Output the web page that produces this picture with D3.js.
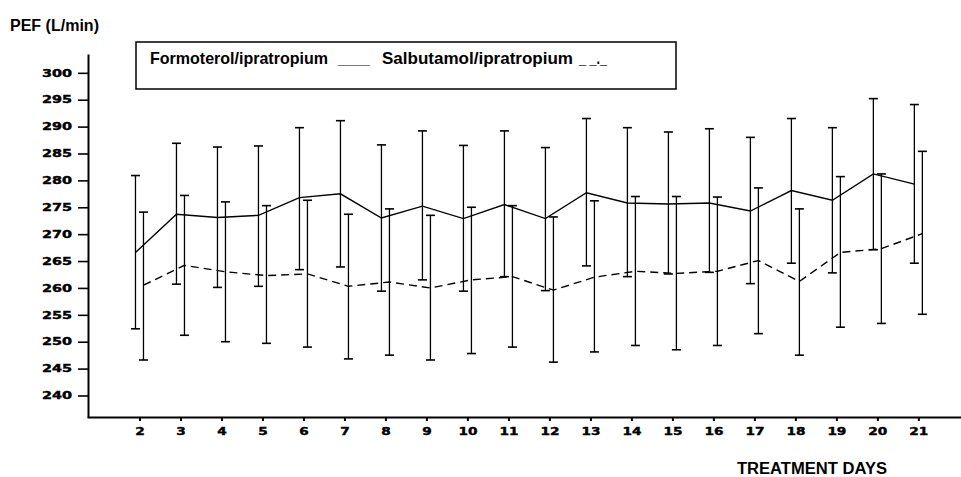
<!DOCTYPE html>
<html>
<head>
<meta charset="utf-8">
<script src="https://cdn.jsdelivr.net/npm/d3@7"></script>
<style>
  html, body { margin: 0; padding: 0; background: #fff; }
  svg { display: block; }
</style>
</head>
<body>
<svg id="chart" width="961" height="477"></svg>
<script>
const days = [2,3,4,5,6,7,8,9,10,11,12,13,14,15,16,17,18,19,20,21];
const yTicks = [240,245,250,255,260,265,270,275,280,285,290,295,300];

const formoterolMean  = [266.6,273.7,273.1,273.5,276.8,277.5,273.0,275.2,272.9,275.5,272.9,277.7,275.8,275.6,275.8,274.3,278.1,276.3,281.2,279.3];
const formoterolUpper = [280.9,286.9,286.2,286.4,289.8,291.1,286.6,289.2,286.5,289.2,286.1,291.5,289.8,289.0,289.6,288.0,291.5,289.8,295.2,294.1];
const formoterolLower = [252.4,260.7,260.1,260.3,263.4,263.9,259.4,261.5,259.4,262.1,259.5,264.1,262.1,262.6,262.9,260.8,264.6,262.8,267.1,264.6];

const salbutamolMean  = [260.5,264.2,263.0,262.3,262.6,260.3,261.1,260.0,261.5,262.1,259.6,262.0,263.1,262.7,263.1,265.1,261.2,266.6,267.3,270.1];
const salbutamolUpper = [274.1,277.2,276.0,275.3,276.3,273.7,274.7,273.5,275.0,275.3,273.2,276.2,277.0,277.0,276.9,278.6,274.7,280.7,281.2,285.4];
const salbutamolLower = [246.6,251.2,250.0,249.7,249.0,246.8,247.5,246.6,247.8,249.0,246.2,248.1,249.3,248.5,249.3,251.5,247.5,252.7,253.4,255.1];

const yLabel = "PEF (L/min)";
const xLabel = "TREATMENT DAYS";
const legendNames = ["Formoterol/ipratropium", "Salbutamol/ipratropium"];

const svg = d3.select("#chart");
const x = d3.scaleLinear().domain([0.72, 22.04]).range([87, 961]);
const y = d3.scaleLinear().domain([236, 303.5]).range([417, 54]);

const tickFont = "'DejaVu Sans', sans-serif";
const labelFont = "'Liberation Sans', Arial, sans-serif";

// Y axis
const gy = svg.append("g").attr("transform", "translate(88,0)")
  .call(d3.axisLeft(y).tickValues(yTicks).tickSize(10).tickSizeOuter(0).tickPadding(6).tickFormat(d3.format("d")));
gy.select(".domain").attr("stroke", "#000").attr("stroke-width", 2);
gy.selectAll(".tick line").attr("stroke", "#000").attr("stroke-width", 1.6);
gy.selectAll(".tick text")
  .attr("font-family", tickFont).attr("font-weight", "bold").attr("font-size", 10).attr("fill", "#000")
  .attr("stroke", "#000").attr("stroke-width", 0.4)
  .attr("textLength", d => String(d).length * 10).attr("lengthAdjust", "spacingAndGlyphs");

// X axis
const gx = svg.append("g").attr("transform", "translate(0,417)")
  .call(d3.axisBottom(x).tickValues(days).tickSize(4).tickSizeOuter(0).tickPadding(7).tickFormat(d3.format("d")));
gx.select(".domain").attr("stroke", "#000").attr("stroke-width", 2);
gx.selectAll(".tick line").attr("stroke", "#000").attr("stroke-width", 2);
gx.selectAll(".tick text")
  .attr("font-family", tickFont).attr("font-weight", "bold").attr("font-size", 10).attr("fill", "#000")
  .attr("stroke", "#000").attr("stroke-width", 0.4)
  .attr("textLength", d => String(d).length * 9.5).attr("lengthAdjust", "spacingAndGlyphs");

function drawSeries(mean, upper, lower, offset, dash) {
  const g = svg.append("g").attr("transform", `translate(${offset},0)`);
  const pts = days.map((d, i) => ({d, m: mean[i], u: upper[i], l: lower[i]}));
  g.selectAll("line.bar").data(pts).enter().append("line")
    .attr("x1", p => x(p.d)).attr("x2", p => x(p.d))
    .attr("y1", p => y(p.u)).attr("y2", p => y(p.l))
    .attr("stroke", "#000").attr("stroke-width", 1.3);
  const cap = 4.5;
  g.selectAll("line.capU").data(pts).enter().append("line")
    .attr("x1", p => x(p.d) - cap).attr("x2", p => x(p.d) + cap)
    .attr("y1", p => y(p.u)).attr("y2", p => y(p.u))
    .attr("stroke", "#000").attr("stroke-width", 1.6);
  g.selectAll("line.capL").data(pts).enter().append("line")
    .attr("x1", p => x(p.d) - cap).attr("x2", p => x(p.d) + cap)
    .attr("y1", p => y(p.l)).attr("y2", p => y(p.l))
    .attr("stroke", "#000").attr("stroke-width", 1.6);
  g.append("path").datum(pts)
    .attr("fill", "none").attr("stroke", "#000").attr("stroke-width", 1.4)
    .attr("stroke-dasharray", dash)
    .attr("d", d3.line().x(p => x(p.d)).y(p => y(p.m)));
}
drawSeries(formoterolMean, formoterolUpper, formoterolLower, -4, null);
drawSeries(salbutamolMean, salbutamolUpper, salbutamolLower, 4, "8,5");

// Axis titles
svg.append("text").attr("x", 10).attr("y", 31).text(yLabel)
  .attr("font-family", labelFont).attr("font-weight", "bold").attr("font-size", 16)
  .attr("textLength", 89).attr("lengthAdjust", "spacingAndGlyphs");
svg.append("text").attr("x", 737).attr("y", 474).text(xLabel)
  .attr("font-family", labelFont).attr("font-weight", "bold").attr("font-size", 16)
  .attr("textLength", 150).attr("lengthAdjust", "spacingAndGlyphs");

// Legend
svg.append("rect").attr("x", 136).attr("y", 42).attr("width", 540).attr("height", 47)
  .attr("fill", "none").attr("stroke", "#000").attr("stroke-width", 1.5);
const lg = svg.append("g").attr("font-family", labelFont).attr("font-weight", "bold").attr("font-size", 17);
lg.append("text").attr("x", 150).attr("y", 64).text(legendNames[0])
  .attr("textLength", 178).attr("lengthAdjust", "spacingAndGlyphs");
lg.append("text").attr("x", 338).attr("y", 64).text("____")
  .attr("textLength", 32).attr("lengthAdjust", "spacingAndGlyphs");
lg.append("text").attr("x", 382).attr("y", 64).text(legendNames[1])
  .attr("textLength", 191).attr("lengthAdjust", "spacingAndGlyphs");
lg.append("text").attr("x", 579).attr("y", 64).text("_ _._")
  .attr("textLength", 28).attr("lengthAdjust", "spacingAndGlyphs");
</script>
</body>
</html>
